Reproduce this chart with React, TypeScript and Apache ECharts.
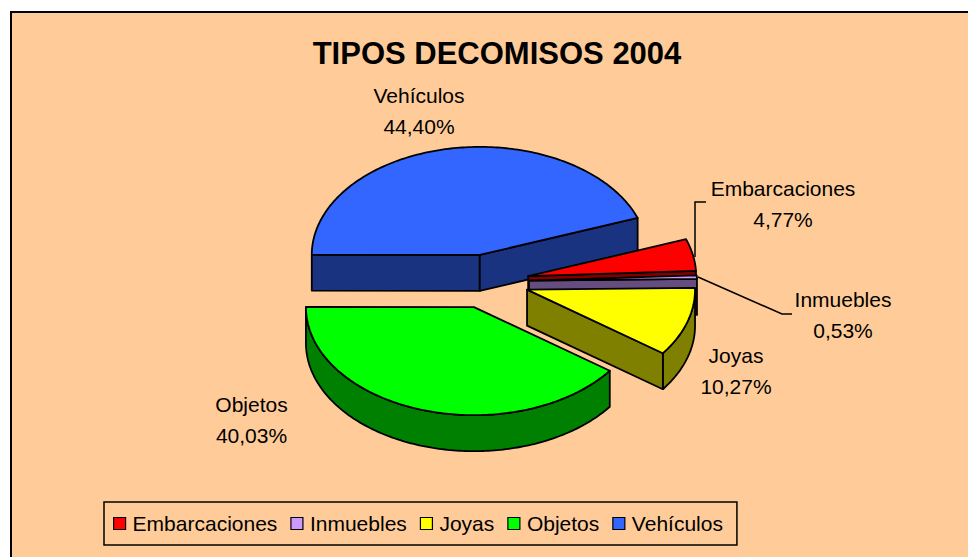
import React, { useEffect, useRef } from "react";
import * as echarts from "echarts";

// ---------- data ----------
const categories = ["Embarcaciones", "Inmuebles", "Joyas", "Objetos", "Vehículos"];
const values = [4.77, 0.53, 10.27, 40.03, 44.4];
const titleText = "TIPOS DECOMISOS 2004";

// ---------- style / layout ----------
const topColors = ["#FF0000", "#CC99FF", "#FFFF00", "#00FF00", "#3366FF"];
const PIE = { cx: 487, cy: 281.5, rx: 168, ry: 108, depth: 36, explode: 42, startAngle: 20 };
const labelPos: number[][] = [
  [783, 203.5],
  [843, 315],
  [736, 370.5],
  [251.5, 419.5],
  [419, 110.5],
];
const leaderLines: (number[][] | null)[] = [
  [[695, 257], [695, 202], [706, 202]],
  [[698, 277], [782, 314], [792, 314]],
  null,
  null,
  null,
];
const FONT = "'Liberation Sans', Arial, sans-serif";

function darken(hex: string) {
  const n = parseInt(hex.slice(1), 16);
  const r = Math.round(((n >> 16) & 255) * 0.5);
  const g = Math.round(((n >> 8) & 255) * 0.5);
  const b = Math.round((n & 255) * 0.5);
  return "rgb(" + r + "," + g + "," + b + ")";
}

const total = values.reduce((a, b) => a + b, 0);
const slices = (() => {
  let cum = 0;
  return values.map((v) => {
    const s = PIE.startAngle - (cum / total) * 360;
    const e = s - (v / total) * 360;
    cum += v;
    const m = ((s + e) / 2) * (Math.PI / 180);
    const ox = PIE.cx + PIE.explode * Math.cos(m);
    const oy = PIE.cy - PIE.explode * Math.sin(m) * (PIE.ry / PIE.rx);
    return { s, e, ox, oy };
  });
})();

const rad = (d: number) => (d * Math.PI) / 180;
function pt(t: number, ox: number, oy: number, dz: number) {
  return [ox + PIE.rx * Math.cos(rad(t)), oy - PIE.ry * Math.sin(rad(t)) + dz];
}
function arc(a: number, b: number, ox: number, oy: number, dz: number) {
  const n = Math.max(1, Math.ceil(Math.abs(b - a)));
  const pts: number[][] = [];
  for (let i = 0; i <= n; i++) pts.push(pt(a + ((b - a) * i) / n, ox, oy, dz));
  return pts;
}

function makeRenderItem(i: number) {
  return () => {
    const { s, e, ox, oy } = slices[i];
    const h = PIE.depth;
    const top = topColors[i];
    const side = darken(top);
    const stroke = { stroke: "#000", lineWidth: 1.8, lineJoin: "round" };
    const children: any[] = [];
    // front outer wall
    for (const k of [-1, 0, 1]) {
      const lo = Math.max(e, -180 + 360 * k);
      const hi = Math.min(s, 360 * k);
      if (hi - lo > 0.01) {
        const pts = arc(hi, lo, ox, oy, 0).concat(arc(lo, hi, ox, oy, h));
        children.push({ type: "polygon", shape: { points: pts }, style: { fill: side, ...stroke } });
      }
    }
    // radial walls
    const apex = [ox, oy];
    const apexB = [ox, oy + h];
    if (Math.cos(rad(s)) < 0) {
      children.push({
        type: "polygon",
        shape: { points: [apex, pt(s, ox, oy, 0), pt(s, ox, oy, h), apexB] },
        style: { fill: side, ...stroke },
      });
    }
    if (Math.cos(rad(e)) > 0) {
      children.push({
        type: "polygon",
        shape: { points: [apex, pt(e, ox, oy, 0), pt(e, ox, oy, h), apexB] },
        style: { fill: side, ...stroke },
      });
    }
    // top face
    children.push({
      type: "polygon",
      shape: { points: [apex].concat(arc(s, e, ox, oy, 0)) },
      style: { fill: top, ...stroke },
    });
    // leader line
    const ll = leaderLines[i];
    if (ll) {
      children.push({
        type: "polyline",
        shape: { points: ll },
        style: { stroke: "#000", lineWidth: 1.5, fill: null },
      });
    }
    // label
    const pct = ((values[i] / total) * 100).toFixed(2).replace(".", ",") + "%";
    children.push({
      type: "text",
      x: labelPos[i][0],
      y: labelPos[i][1],
      style: {
        text: categories[i] + "\n" + pct,
        fill: "#000",
        fontSize: 21,
        fontFamily: FONT,
        align: "center",
        verticalAlign: "middle",
        lineHeight: 31,
      },
    });
    return { type: "group", children };
  };
}

export default function App() {
  const ref = useRef<HTMLDivElement>(null);
  useEffect(() => {
    if (!ref.current) return;
    const chart = echarts.init(ref.current, undefined, { renderer: "svg" });
    const order = slices
      .map((sl, i) => ({ i, y: sl.oy }))
      .sort((a, b) => a.y - b.y)
      .map((o) => o.i);
    const series = order.map((i, rank) => ({
      type: "custom",
      name: categories[i],
      coordinateSystem: "none",
      z: 3 + rank,
      itemStyle: { color: topColors[i] },
      data: [{ name: categories[i], value: values[i] }],
      renderItem: makeRenderItem(i),
      silent: true,
    }));
    chart.setOption({
      animation: false,
      backgroundColor: "#FFFFFF",
      graphic: [
        {
          type: "rect",
          z: 0,
          shape: { x: 11, y: 12, width: 1000, height: 600 },
          style: { fill: "#FFCC99", stroke: "#000", lineWidth: 2 },
        },
        {
          type: "text",
          z: 1,
          x: 497,
          y: 53,
          style: {
            text: titleText,
            fill: "#000",
            fontSize: 31,
            fontWeight: "bold",
            fontFamily: FONT,
            align: "center",
            verticalAlign: "middle",
          },
        },
      ],
      legend: {
        data: categories,
        left: 104,
        top: 502,
        orient: "horizontal",
        icon: "rect",
        itemWidth: 12,
        itemHeight: 12,
        itemGap: 13,
        padding: [10, 14, 10, 9],
        borderColor: "#000",
        borderWidth: 1.5,
        selectedMode: false,
        itemStyle: { borderColor: "#000", borderWidth: 1.2 },
        textStyle: {
          fontSize: 21,
          fontFamily: FONT,
          color: "#000",
          lineHeight: 23,
          padding: [0, 0, 0, 2],
        },
      },
      series,
    });
    return () => chart.dispose();
  }, []);
  return (
    <div
      ref={ref}
      style={{ position: "fixed", left: 0, top: 0, width: 968, height: 557 }}
    />
  );
}
